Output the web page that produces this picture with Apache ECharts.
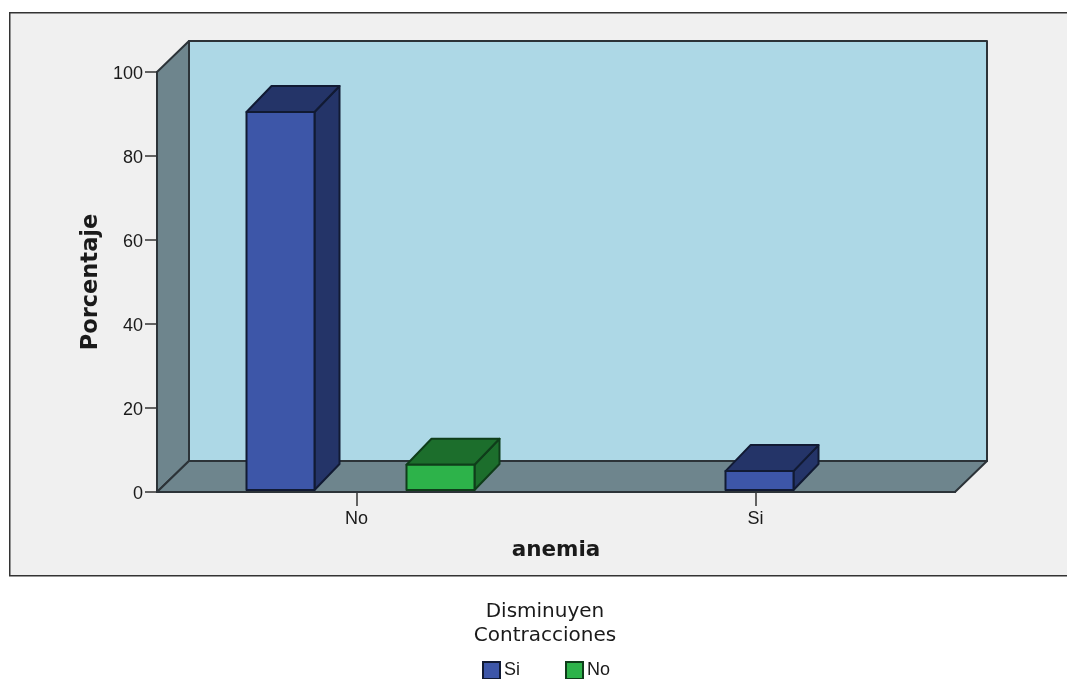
<!DOCTYPE html>
<html>
<head>
<meta charset="utf-8">
<style>html,body{margin:0;padding:0;background:#fff}#chart{width:1067px;height:679px}</style>
<script src="https://cdn.jsdelivr.net/npm/echarts@6/dist/echarts.min.js"></script>
</head>
<body>
<div id="chart"></div>
<script>
// Porcentaje de "Disminuyen Contracciones" por grupo de anemia
const categories = ['No', 'Si'];
const serieSi = [90, 4.5];
const serieNo = [6, null];
const yTicks = { min: 0, max: 100, interval: 20 };

const FONT = '"DejaVu Sans", sans-serif';
const TICK_FONT = '"Liberation Sans", Arial, sans-serif';
const TEXT = '#1a1a1a';
const EDGE = '#1d2228';
const WALL_DX = 32, WALL_DY = -31;
const BAR_DX = 25, BAR_DY = -26, BAR_W = 68, BAR_LIFT = 2, BAR_SHIFT = 4, BAR_OFFSET = 80;

const chart = echarts.init(document.getElementById('chart'));

// Caja 3D: paredes izquierda y fondo, y suelo
function renderWalls(params, api) {
  const size = params.coordSys;
  const x0 = size.x, x1 = size.x + size.width;
  const yTop = size.y, yBot = size.y + size.height;
  const poly = (points, fill) => ({
    type: 'polygon',
    shape: { points },
    style: { fill, stroke: '#2c3338', lineWidth: 2, lineJoin: 'round' }
  });
  return {
    type: 'group',
    children: [
      poly([[x0 + WALL_DX, yTop + WALL_DY], [x1 + WALL_DX, yTop + WALL_DY], [x1 + WALL_DX, yBot + WALL_DY], [x0 + WALL_DX, yBot + WALL_DY]], '#add8e6'),
      poly([[x0, yTop], [x0 + WALL_DX, yTop + WALL_DY], [x0 + WALL_DX, yBot + WALL_DY], [x0, yBot]], '#6e858d'),
      poly([[x0, yBot], [x0 + WALL_DX, yBot + WALL_DY], [x1 + WALL_DX, yBot + WALL_DY], [x1, yBot]], '#6e858d')
    ]
  };
}

// Barra con cara frontal, lateral y superior
function barRenderer(slot, front, dark, line, own, other) {
  return function (params, api) {
    const i = api.value(0);
    const v = own[i];
    if (v == null) return null;
    const paired = other[i] != null;
    const cx = api.coord([i, 0])[0] + BAR_SHIFT + (paired ? slot * BAR_OFFSET : 0);
    const base = api.coord([i, 0])[1] - BAR_LIFT;
    const top = api.coord([i, v])[1] - BAR_LIFT;
    const l = cx - BAR_W / 2, r = cx + BAR_W / 2;
    const style = fill => ({ fill, stroke: line, lineWidth: 2, lineJoin: 'round' });
    return {
      type: 'group',
      children: [
        { type: 'polygon', shape: { points: [[r, top], [r + BAR_DX, top + BAR_DY], [r + BAR_DX, base + BAR_DY], [r, base]] }, style: style(dark) },
        { type: 'polygon', shape: { points: [[l, top], [l + BAR_DX, top + BAR_DY], [r + BAR_DX, top + BAR_DY], [r, top]] }, style: style(dark) },
        { type: 'polygon', shape: { points: [[l, top], [r, top], [r, base], [l, base]] }, style: style(front) }
      ]
    };
  };
}

const seriesData = categories.map((c, i) => [i]);

chart.setOption({
  animation: false,
  backgroundColor: '#ffffff',
  textStyle: { fontFamily: FONT },
  graphic: [
    { type: 'rect', left: 9, top: 12, z: -10, shape: { width: 1070, height: 563 },
      style: { fill: '#f0f0f0', stroke: '#333333', lineWidth: 1.5 } },
    { type: 'text', x: 545, y: 600, z: 5,
      style: { text: 'Disminuyen\nContracciones', fill: TEXT, font: '20px ' + FONT, textAlign: 'center', lineHeight: 24 } }
  ],
  grid: { left: 157, top: 72, width: 798, height: 420 },
  xAxis: {
    type: 'category',
    data: categories,
    name: 'anemia',
    nameLocation: 'middle',
    nameMoveOverlap: false,
    nameGap: 47,
    nameTextStyle: { fontSize: 21.5, fontWeight: 'bold', color: TEXT, fontFamily: FONT },
    axisLine: { show: true, lineStyle: { color: EDGE, width: 2 } },
    axisTick: { show: true, alignWithLabel: true, length: 14, lineStyle: { color: '#333333', width: 1.5 } },
    axisLabel: { fontSize: 18, color: TEXT, margin: 18, fontFamily: TICK_FONT }
  },
  yAxis: {
    type: 'value',
    min: yTicks.min,
    max: yTicks.max,
    interval: yTicks.interval,
    name: 'Porcentaje',
    nameLocation: 'middle',
    nameMoveOverlap: false,
    nameGap: 54,
    nameTextStyle: { fontSize: 22.5, fontWeight: 'bold', color: TEXT, fontFamily: FONT },
    axisLine: { show: true, lineStyle: { color: EDGE, width: 2 } },
    axisTick: { show: true, length: 12, lineStyle: { color: '#333333', width: 1.5 } },
    axisLabel: { fontSize: 18, color: TEXT, margin: 14, fontFamily: TICK_FONT, verticalAlign: 'top', lineHeight: 18, padding: [-7, 0, 0, 0] },
    splitLine: { show: false }
  },
  legend: {
    left: 482,
    top: 661,
    padding: 0,
    icon: 'rect',
    itemWidth: 17,
    itemHeight: 17,
    itemGap: 45,
    selectedMode: false,
    data: ['Si', 'No'],
    textStyle: { fontSize: 18, color: TEXT, fontFamily: TICK_FONT, padding: [0, 0, 0, -1] }
  },
  series: [
    { type: 'custom', name: 'caja', silent: true, z: 1, renderItem: renderWalls, data: [[0]], encode: { x: 0 } },
    { type: 'custom', name: 'Si', z: 3, data: seriesData, encode: { x: 0 },
      itemStyle: { color: '#3d56a8', borderColor: '#111a33', borderWidth: 1.5 },
      renderItem: barRenderer(-1, '#3d56a8', '#243468', '#111a33', serieSi, serieNo) },
    { type: 'custom', name: 'No', z: 3, data: seriesData, encode: { x: 0 },
      itemStyle: { color: '#2db34a', borderColor: '#0f3d1a', borderWidth: 1.5 },
      renderItem: barRenderer(1, '#2db34a', '#1c6e2c', '#0f3d1a', serieNo, serieSi) }
  ]
});
</script>
</body>
</html>
